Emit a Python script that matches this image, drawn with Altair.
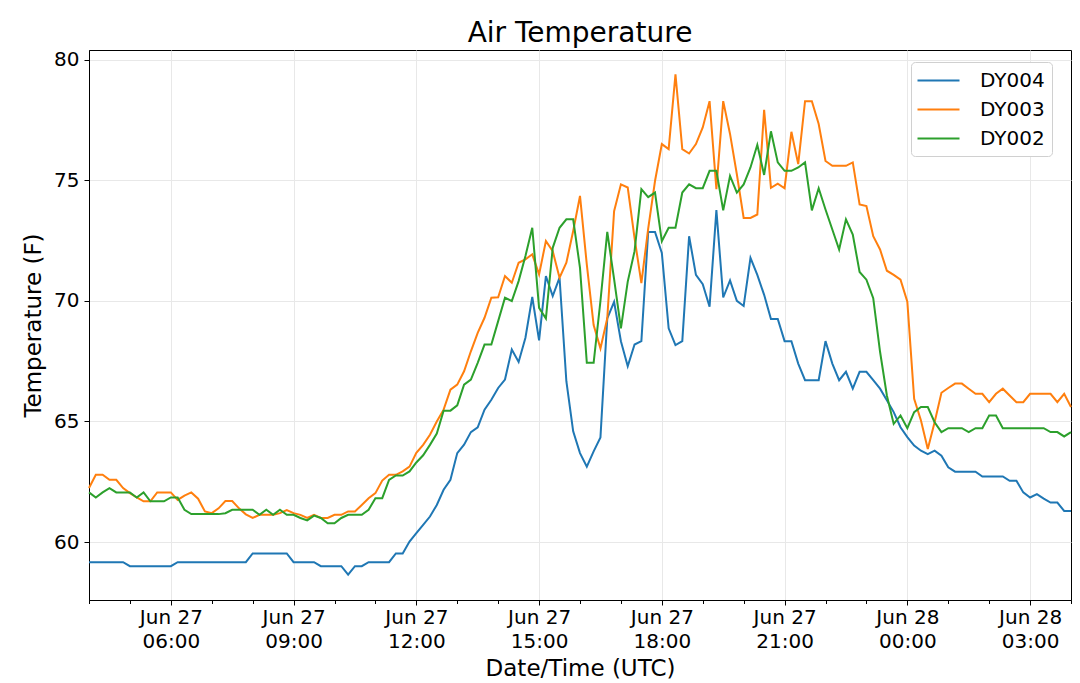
import altair as alt
import pandas as pd

# 10-minute readings, 04:00 UTC Jun 27 to 04:00 UTC Jun 28
start = "2019-06-27 04:00"
n_points = 145

dy004 = [
    59.17, 59.17, 59.17, 59.17, 59.17, 59.17, 59.0, 59.0, 59.0, 59.0,
    59.0, 59.0, 59.0, 59.17, 59.17, 59.17, 59.17, 59.17, 59.17, 59.17,
    59.17, 59.17, 59.17, 59.17, 59.53, 59.53, 59.53, 59.53, 59.53, 59.53,
    59.17, 59.17, 59.17, 59.17, 59.0, 59.0, 59.0, 59.0, 58.65, 59.0,
    59.0, 59.17, 59.17, 59.17, 59.17, 59.53, 59.53, 60.02, 60.37, 60.71,
    61.06, 61.54, 62.17, 62.58, 63.69, 64.04, 64.56, 64.76, 65.49, 65.9,
    66.39, 66.74, 67.98, 67.47, 68.47, 70.16, 68.36, 71.03, 70.2, 70.96,
    66.67, 64.59, 63.69, 63.13, 63.76, 64.34, 69.27, 69.96, 68.33, 67.29,
    68.19, 68.33, 72.86, 72.86, 71.99, 68.86, 68.17, 68.33, 72.68, 71.08,
    70.69, 69.76, 73.76, 70.14, 70.85, 70.0, 69.79, 71.78, 71.08, 70.25,
    69.25, 69.25, 68.33, 68.33, 67.4, 66.71, 66.71, 66.71, 68.33, 67.4,
    66.71, 67.06, 66.36, 67.06, 67.06, 66.71, 66.36, 65.88, 65.39, 64.76,
    64.35, 64.0, 63.79, 63.65, 63.79, 63.58, 63.1, 62.92, 62.92, 62.92,
    62.92, 62.72, 62.72, 62.72, 62.72, 62.54, 62.54, 62.06, 61.85, 61.99,
    61.8, 61.64, 61.64, 61.29, 61.29,
]

dy003 = [
    62.24, 62.79, 62.79, 62.58, 62.58, 62.24, 62.03, 61.85, 61.69, 61.69,
    62.06, 62.06, 62.06, 61.75, 61.93, 62.06, 61.8, 61.27, 61.2, 61.4,
    61.7, 61.7, 61.4, 61.15, 61.0, 61.13, 61.13, 61.13, 61.2, 61.33,
    61.2, 61.13, 61.0, 61.13, 61.0, 61.0, 61.13, 61.13, 61.27, 61.27,
    61.54, 61.82, 62.03, 62.55, 62.79, 62.79, 62.93, 63.13, 63.7, 64.03,
    64.45, 65.0, 65.49, 66.32, 66.53, 67.08, 67.91, 68.67, 69.3, 70.13,
    70.15, 71.03, 70.75, 71.58, 71.72, 71.93, 71.1, 72.48, 72.06, 70.96,
    71.58, 72.9, 74.35, 71.5, 69.0, 68.03, 69.28, 73.72, 74.83, 74.7,
    72.6, 70.74, 73.0, 74.97, 76.5, 76.29, 79.39, 76.29, 76.11, 76.5,
    77.19, 78.28, 74.63, 78.28, 76.92, 75.25, 73.44, 73.44, 73.58, 77.92,
    74.69, 74.86, 74.67, 77.01, 75.67, 78.28, 78.28, 77.33, 75.8, 75.6,
    75.6, 75.6, 75.74, 74.0, 73.93, 72.68, 72.13, 71.25, 71.08, 70.88,
    69.97, 65.94, 65.04, 63.86, 64.97, 66.19, 66.39, 66.57, 66.57, 66.36,
    66.15, 66.15, 65.8, 66.15, 66.36, 66.08, 65.8, 65.8, 66.15, 66.15,
    66.15, 66.15, 65.8, 66.15, 65.6,
]

dy002 = [
    62.06, 61.85, 62.06, 62.24, 62.06, 62.06, 62.06, 61.85, 62.06, 61.69,
    61.69, 61.69, 61.85, 61.85, 61.34, 61.16, 61.16, 61.16, 61.16, 61.16,
    61.2, 61.34, 61.34, 61.34, 61.34, 61.13, 61.34, 61.13, 61.34, 61.13,
    61.13, 61.0, 60.9, 61.1, 61.0, 60.78, 60.78, 61.0, 61.13, 61.13,
    61.13, 61.34, 61.82, 61.82, 62.58, 62.76, 62.76, 62.93, 63.3, 63.6,
    64.03, 64.5, 65.45, 65.45, 65.67, 66.53, 66.74, 67.43, 68.19, 68.19,
    69.16, 70.13, 69.99, 70.82, 71.86, 73.03, 69.71, 69.27, 72.2, 73.03,
    73.38, 73.38, 71.37, 67.43, 67.43, 70.0, 72.86, 70.9, 68.86, 70.8,
    72.06, 74.63, 74.3, 74.49, 72.47, 73.03, 73.03, 74.49, 74.83, 74.67,
    74.67, 75.39, 75.39, 73.75, 75.18, 74.49, 74.83, 75.53, 76.47, 75.22,
    77.03, 75.74, 75.39, 75.39, 75.53, 75.74, 73.75, 74.67, 73.79, 72.96,
    72.13, 73.38, 72.75, 71.2, 70.88, 70.11, 67.89, 66.08, 64.9, 65.25,
    64.72, 65.39, 65.6, 65.6, 64.97, 64.56, 64.72, 64.72, 64.72, 64.56,
    64.72, 64.72, 65.25, 65.25, 64.72, 64.72, 64.72, 64.72, 64.72, 64.72,
    64.72, 64.56, 64.56, 64.38, 64.56,
]

stations = ["DY004", "DY003", "DY002"]
colors = ["#1f77b4", "#ff7f0e", "#2ca02c"]

times = pd.date_range(start, periods=n_points, freq="10min", tz="UTC")
frames = []
for name, vals in zip(stations, [dy004, dy003, dy002]):
    frames.append(pd.DataFrame({"time": times, "station": name, "temp": vals}))
df = pd.concat(frames, ignore_index=True)
df["time"] = df["time"].dt.strftime("%Y-%m-%dT%H:%M:%SZ")

hour_ticks = [int(t.value // 10**6) for t in pd.date_range(start, periods=25, freq="h", tz="UTC")]
major = "utchours(datum.value) % 3 == 0"

x_axis = alt.Axis(
    title="Date/Time (UTC)",
    values=hour_ticks,
    labelExpr=f"{major} ? [utcFormat(datum.value, '%b %d'), utcFormat(datum.value, '%H:%M')] : ''",
    labelLineHeight=24,
    labelPadding=2,
    labelAngle=0,
    tickSize={"condition": {"test": major, "value": 5}, "value": 3.5},
    gridOpacity={"condition": {"test": major, "value": 1}, "value": 0},
    titlePadding=6,
    labelOverlap=False,
)

y_axis = alt.Axis(
    title="Temperature (F)",
    values=[60, 65, 70, 75, 80],
    tickSize=5,
    labelPadding=5,
    titlePadding=8,
)

# legend line: a path twice as long as the symbol cell, so rows stay compact
legend = alt.Legend(
    title=None,
    orient="none",
    legendX=822,
    legendY=12,
    symbolType="M-2,0H2",
    symbolSize=441,
    symbolStrokeWidth=2,
    symbolOffset=9,
    labelFontSize=20,
    labelOffset=30,
    rowPadding=7,
    padding=7,
    strokeColor="#d0d0d0",
    fillColor="white",
    cornerRadius=4,
    labelColor="black",
)

chart = (
    alt.Chart(df)
    .mark_line(strokeWidth=2)
    .encode(
        x=alt.X(
            "time:T",
            scale=alt.Scale(type="utc", domain=[hour_ticks[0], hour_ticks[-1]]),
            axis=x_axis,
        ),
        y=alt.Y("temp:Q", scale=alt.Scale(domain=[57.6, 80.4], nice=False, zero=False), axis=y_axis),
        color=alt.Color("station:N", scale=alt.Scale(domain=stations, range=colors), legend=legend),
    )
    .properties(
        width=982,
        height=550,
        title=alt.Title("Air Temperature", fontSize=28, fontWeight="normal", offset=2, color="black"),
        autosize=alt.AutoSizeParams(type="none"),
        padding={"left": 81, "top": 42, "right": 1, "bottom": 82},
    )
    .configure(font="DejaVu Sans")
    .configure_view(stroke="black", strokeWidth=1)
    .configure_axis(
        domainColor="black",
        tickColor="black",
        labelColor="black",
        titleColor="black",
        labelFontSize=20,
        titleFontSize=23,
        titleFontWeight="normal",
        gridColor="#e8e8e8",
    )
)

chart.save("out.html", embed_options={"renderer": "svg", "actions": False})
